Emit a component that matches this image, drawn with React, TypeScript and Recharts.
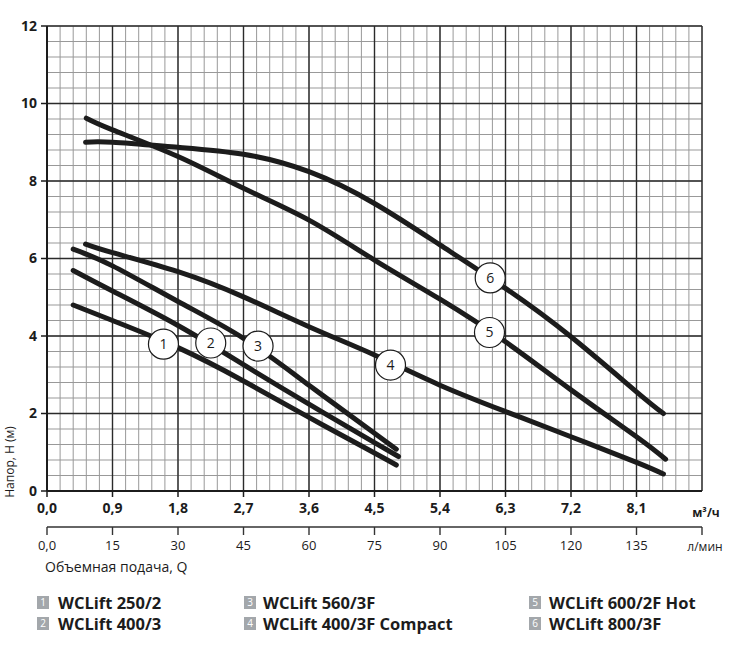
import React from "react";
import {
  LineChart,
  Line,
  XAxis,
  YAxis,
  CartesianGrid,
  ReferenceDot,
} from "recharts";

// flow Q (m3/h) and head H (m)
const q1 = [0.36, 0.9, 1.8, 2.7, 3.6, 4.5, 4.8];
const h1 = [4.8, 4.4, 3.7, 2.84, 1.9, 0.98, 0.67];
const q2 = [0.36, 0.9, 1.8, 2.7, 3.6, 4.5, 4.83];
const h2 = [5.69, 5.16, 4.27, 3.26, 2.24, 1.25, 0.89];
const q3 = [0.36, 0.9, 1.8, 2.7, 3.6, 4.5, 4.8];
const h3 = [6.24, 5.81, 4.89, 3.94, 2.73, 1.49, 1.08];
const q4 = [0.53, 0.9, 1.8, 2.7, 3.6, 4.5, 5.4, 6.3, 7.2, 8.1, 8.47];
const h4 = [6.37, 6.15, 5.66, 5.01, 4.24, 3.51, 2.73, 2.05, 1.4, 0.74, 0.44];
const q5 = [0.54, 0.9, 1.8, 2.7, 3.6, 4.5, 5.4, 6.3, 7.2, 8.1, 8.5];
const h5 = [9.62, 9.32, 8.63, 7.81, 6.99, 5.96, 4.95, 3.85, 2.61, 1.4, 0.82];
const q6 = [0.53, 0.9, 1.8, 2.7, 3.6, 4.5, 5.4, 6.3, 7.2, 8.1, 8.47];
const h6 = [9.0, 9.0, 8.87, 8.69, 8.24, 7.42, 6.35, 5.23, 3.98, 2.56, 2.0];

// numbered callouts on the curves
const markQ = [1.6, 2.25, 2.9, 4.72, 6.08, 6.09];
const markH = [3.79, 3.82, 3.74, 3.25, 4.09, 5.5];

const names = [
  "WCLift 250/2",
  "WCLift 400/3",
  "WCLift 560/3F",
  "WCLift 400/3F Compact",
  "WCLift 600/2F Hot",
  "WCLift 800/3F",
];

const qTicks = [0, 0.9, 1.8, 2.7, 3.6, 4.5, 5.4, 6.3, 7.2, 8.1];
const lTicks = [0, 15, 30, 45, 60, 75, 90, 105, 120, 135, 150];
const hTicks = [0, 2, 4, 6, 8, 10, 12];

const toRows = (q: number[], h: number[]) => q.map((v, i) => ({ q: v, h: h[i] }));
const series = [
  toRows(q1, h1),
  toRows(q2, h2),
  toRows(q3, h3),
  toRows(q4, h4),
  toRows(q5, h5),
  toRows(q6, h6),
];
// invisible span so the l/min axis gets drawn
const lSpan = [
  { l: 0, h: 0 },
  { l: 150, h: 0 },
];

// grid: minor every 0.18 m3/h and 0.4 m
const minorV = Array.from({ length: 51 }, (_, i) => +(i * 0.18).toFixed(2));
const minorH = Array.from({ length: 31 }, (_, i) => +(i * 0.4).toFixed(1));
const majorV = [...qTicks, 9];

const FONT = "'Open Sans', sans-serif";
const INK = "#1c1c1c";

const legendCols = [
  { sq: 37, tx: 58 },
  { sq: 244, tx: 263 },
  { sq: 529, tx: 549 },
];

export default function App() {
  return (
    <div style={{ position: "relative", width: 733, height: 665, fontFamily: FONT }}>
      <style>{"body{margin:0}"}</style>
      <LineChart
        width={733}
        height={665}
        margin={{ top: 26, right: 31, left: 0, bottom: 88 }}
      >
        <CartesianGrid
          verticalValues={minorV}
          horizontalValues={minorH}
          stroke="#999"
          strokeWidth={1}
        />
        <CartesianGrid
          verticalValues={majorV}
          horizontalValues={hTicks}
          stroke="#2b2b2b"
          strokeWidth={1.4}
          fill="none"
        />
        <XAxis
          dataKey="q"
          type="number"
          domain={[0, 9]}
          ticks={qTicks}
          interval={0}
          height={36}
          tickSize={6}
          tickMargin={6}
          axisLine={{ stroke: INK, strokeWidth: 2 }}
          tickLine={{ stroke: INK, strokeWidth: 1.5 }}
          tick={{ fill: INK, fontSize: 14, fontWeight: 700, fontFamily: FONT }}
          tickFormatter={(v: number) => v.toFixed(1).replace(".", ",")}
          label={{
            content: (p: any) => (
              <text
                x={p.viewBox.x + p.viewBox.width + 4}
                y={p.viewBox.y + 26}
                textAnchor="middle"
                fontSize={12}
                fontWeight={700}
                fill={INK}
                fontFamily={FONT}
              >
                м³/ч
              </text>
            ),
          }}
        />
        <XAxis
          xAxisId="l"
          dataKey="l"
          type="number"
          domain={[0, 150]}
          ticks={lTicks}
          interval={0}
          height={50}
          tickSize={8}
          tickMargin={6}
          axisLine={{ stroke: "#333", strokeWidth: 1.6 }}
          tickLine={{ stroke: "#333", strokeWidth: 1.4 }}
          tick={{ fill: INK, fontSize: 13, fontFamily: FONT }}
          tickFormatter={(v: number) => (v === 0 ? "0,0" : v === 150 ? "" : String(v))}
          label={{
            content: (p: any) => (
              <g fontFamily={FONT} fill={INK}>
                <text
                  x={p.viewBox.x + p.viewBox.width + 3}
                  y={p.viewBox.y + 24}
                  textAnchor="middle"
                  fontSize={12}
                >
                  л/мин
                </text>
                <text x={p.viewBox.x - 2} y={p.viewBox.y + 45} fontSize={14}>
                  Объемная подача, Q
                </text>
              </g>
            ),
          }}
        />
        <YAxis
          type="number"
          domain={[0, 12]}
          ticks={hTicks}
          interval={0}
          width={47}
          tickSize={6}
          tickMargin={4}
          axisLine={{ stroke: INK, strokeWidth: 2 }}
          tickLine={{ stroke: INK, strokeWidth: 1.5 }}
          tick={{ fill: INK, fontSize: 14, fontWeight: 700, fontFamily: FONT }}
          label={{
            content: () => (
              <text
                x={0}
                y={0}
                transform="translate(14, 462) rotate(-90)"
                textAnchor="middle"
                fontSize={12}
                fill={INK}
                fontFamily={FONT}
              >
                Напор, Н (м)
              </text>
            ),
          }}
        />
        <Line
          xAxisId="l"
          data={lSpan}
          dataKey="h"
          stroke="none"
          dot={false}
          activeDot={false}
          isAnimationActive={false}
        />
        {series.map((d, i) => (
          <Line
            key={names[i]}
            data={d}
            dataKey="h"
            type="natural"
            stroke={INK}
            strokeWidth={5}
            strokeLinecap="round"
            dot={false}
            activeDot={false}
            isAnimationActive={false}
          />
        ))}
        {markQ.map((q, i) => (
          <ReferenceDot
            key={i}
            x={q}
            y={markH[i]}
            r={15}
            fill="#fff"
            stroke={INK}
            strokeWidth={1.2}
            label={{
              value: String(i + 1),
              position: "center",
              fontSize: 14,
              fill: INK,
              fontFamily: FONT,
            }}
          />
        ))}
      </LineChart>
      {names.map((n, i) => {
        const col = legendCols[Math.floor(i / 2)];
        const top = i % 2 === 0 ? 591 : 612;
        return (
          <div
            key={n}
            style={{
              position: "absolute",
              left: col.sq,
              top,
              display: "flex",
              alignItems: "center",
              height: 22,
            }}
          >
            <span
              style={{
                width: 12,
                height: 13,
                background: "#a3a7ab",
                color: "#fff",
                fontSize: 10,
                lineHeight: "13px",
                textAlign: "center",
              }}
            >
              {i + 1}
            </span>
            <span
              style={{
                position: "absolute",
                left: col.tx - col.sq,
                whiteSpace: "nowrap",
                fontSize: 16.5,
                fontWeight: 700,
                color: INK,
              }}
            >
              {n}
            </span>
          </div>
        );
      })}
    </div>
  );
}
